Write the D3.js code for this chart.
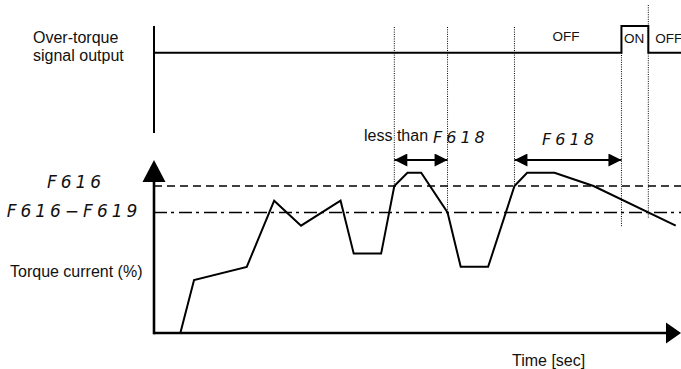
<!DOCTYPE html>
<html>
<head>
<meta charset="utf-8">
<script src="https://cdn.jsdelivr.net/npm/d3@7/dist/d3.min.js"></script>
<style>
  html, body { margin: 0; padding: 0; background: #fff; }
  svg { display: block; }
  .lbl { font-family: "Liberation Sans", Arial, sans-serif; fill: #111; }
  .seg { font-family: "DejaVu Sans", sans-serif; font-weight: 200; font-style: italic; fill: #111; letter-spacing: 4px; }
</style>
</head>
<body>
<script>
// ---- data (time in arbitrary units 0..100, torque in % of F616 level) ----
const torqueTime  = [5, 7.6, 17.6, 22.8, 27.9, 35.4, 37.9, 43.1, 45.6, 48.1, 50.7, 55.7, 58.2, 63.4, 68.4, 70.8, 76.0, 83.4, 99.0];
const torqueValue = [0, 36, 45, 90, 73, 90, 54, 54, 100, 109, 109, 82, 45, 45, 100, 109, 109, 100, 73];
const levelF616 = 100;          // over-torque detection level
const levelF616minusF619 = 82;  // release level (F616 - F619)
const markerTimes = [45.6, 55.7, 68.4, 88.7, 93.8];  // dotted guide lines
const signalOnStart = 88.7, signalOnEnd = 93.8;
const signalStates = [
  {label: "OFF", t: 75.6},
  {label: "ON",  t: 89.2},
  {label: "OFF", t: 95.1}
];
const spanLessThan = [45.6, 55.7];
const spanF618 = [68.4, 88.7];

// ---- layout ----
const W = 681, H = 369;
const svg = d3.select("body").append("svg").attr("width", W).attr("height", H);
const x = d3.scaleLinear().domain([0, 100]).range([154, 681]);
const y = d3.scaleLinear().domain([0, 100]).range([333, 186]);
const sigY = 52.7, sigHigh = 26;

const defs = svg.append("defs");
defs.append("marker").attr("id", "ah").attr("viewBox", "0 0 10 10")
  .attr("refX", 10).attr("refY", 5).attr("markerWidth", 15).attr("markerHeight", 13)
  .attr("markerUnits", "userSpaceOnUse").attr("orient", "auto-start-reverse")
  .append("path").attr("d", "M0,0 L10,5 L0,10 Z").attr("fill", "#000");

// ---- signal output section ----
svg.append("line").attr("x1", x(0)).attr("x2", x(0)).attr("y1", 26).attr("y2", 133)
  .attr("stroke", "#000").attr("stroke-width", 2);
svg.append("path")
  .attr("d", d3.line()([
    [x(0), sigY], [x(signalOnStart), sigY], [x(signalOnStart), sigHigh],
    [x(signalOnEnd), sigHigh], [x(signalOnEnd), sigY], [x(100), sigY]
  ]))
  .attr("fill", "none").attr("stroke", "#000").attr("stroke-width", 2);

svg.append("text").attr("class", "lbl").attr("x", 33).attr("y", 42.5).attr("font-size", 16).text("Over-torque");
svg.append("text").attr("class", "lbl").attr("x", 33).attr("y", 60.5).attr("font-size", 16).text("signal output");

svg.selectAll(".st").data(signalStates).enter().append("text")
  .attr("class", "lbl").attr("font-size", 13.5)
  .attr("x", d => x(d.t)).attr("y", (d, i) => i === 0 ? 41 : 43)
  .text(d => d.label);

// ---- dotted guide lines ----
const guideTop = [27, 27, 27, sigY, 5];
const guideBottom = [y(100), y(levelF616minusF619), y(100), 227, 218];
svg.selectAll(".guide").data(markerTimes).enter().append("line")
  .attr("x1", d => x(d)).attr("x2", d => x(d))
  .attr("y1", (d, i) => guideTop[i]).attr("y2", (d, i) => guideBottom[i])
  .attr("stroke", "#000").attr("stroke-width", 1).attr("stroke-dasharray", "1,1.3");

// ---- threshold lines ----
svg.append("line").attr("x1", x(0)).attr("x2", x(100)).attr("y1", y(levelF616)).attr("y2", y(levelF616))
  .attr("stroke", "#000").attr("stroke-width", 1.5).attr("stroke-dasharray", "8,5");
svg.append("line").attr("x1", x(0)).attr("x2", x(100)).attr("y1", y(levelF616minusF619)).attr("y2", y(levelF616minusF619))
  .attr("stroke", "#000").attr("stroke-width", 1.5).attr("stroke-dasharray", "13,4,3,5");

// ---- torque curve ----
svg.append("path")
  .datum(torqueTime.map((t, i) => [t, torqueValue[i]]))
  .attr("d", d3.line().x(d => x(d[0])).y(d => y(d[1])))
  .attr("fill", "none").attr("stroke", "#000").attr("stroke-width", 2).attr("stroke-linejoin", "miter");

// ---- axes with arrows ----
const x0 = x(0), y0 = y(0);
svg.append("line").attr("x1", x0).attr("x2", x0).attr("y1", y0 + 1.3).attr("y2", 180)
  .attr("stroke", "#000").attr("stroke-width", 2.6);
svg.append("path").attr("d", `M${x0},160 L${x0 + 11.5},182 L${x0 - 11.5},182 Z`).attr("fill", "#000");
svg.append("line").attr("x1", x0).attr("x2", 667).attr("y1", y0).attr("y2", y0)
  .attr("stroke", "#000").attr("stroke-width", 2.6);
svg.append("path").attr("d", `M681,${y0} L666,${y0 - 10.5} L666,${y0 + 10.5} Z`).attr("fill", "#000");

// ---- double arrows ----
[spanLessThan, spanF618].forEach(s => {
  svg.append("line").attr("x1", x(s[0])).attr("x2", x(s[1])).attr("y1", 160).attr("y2", 160)
    .attr("stroke", "#000").attr("stroke-width", 2)
    .attr("marker-start", "url(#ah)").attr("marker-end", "url(#ah)");
});

// ---- labels ----
svg.append("text").attr("class", "lbl").attr("x", 364).attr("y", 141).attr("font-size", 16).text("less than");
svg.append("text").attr("class", "seg").attr("x", 433).attr("y", 143).attr("font-size", 16).text("F618");
svg.append("text").attr("class", "seg").attr("x", (x(spanF618[0]) + x(spanF618[1])) / 2 + 2).attr("y", 145)
  .attr("text-anchor", "middle").attr("font-size", 16).text("F618");
svg.append("text").attr("class", "seg").attr("x", 76).attr("y", 188).attr("text-anchor", "middle").attr("font-size", 17).text("F616");
svg.append("text").attr("class", "seg").attr("x", 74).attr("y", 217).attr("text-anchor", "middle").attr("font-size", 17).text("F616\u2212F619");

svg.append("text").attr("class", "lbl").attr("x", 10).attr("y", 277).attr("font-size", 16).text("Torque current (%)");
svg.append("text").attr("class", "lbl").attr("x", 512).attr("y", 366).attr("font-size", 16).text("Time [sec]");
</script>
</body>
</html>
